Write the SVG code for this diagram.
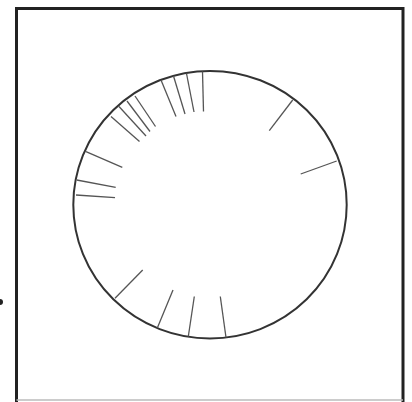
<svg xmlns="http://www.w3.org/2000/svg" width="412" height="402" viewBox="0 0 412 402">
<style>
.frame{fill:none;stroke:#222;stroke-width:3}
.ring{fill:none;stroke:#333;stroke-width:2}
.tick{stroke:#555;stroke-width:1.3;stroke-linecap:butt}
</style>
<rect x="0" y="0" width="412" height="402" fill="#fff"/>
<g id="frame">
<path class="frame" d="M16.5,402 V8.5 H403 V402"/>
<line x1="16.5" y1="400" x2="403" y2="400" stroke="#bbb" stroke-width="1.5"/>
</g>
<circle id="dot" cx="0" cy="302" r="3" fill="#222"/>
<g id="dial">
<ellipse class="ring" cx="210" cy="204.7" rx="136.7" ry="133.8"/>
</g>
<g id="ticks">
<line class="tick" x1="202.5" y1="71.5" x2="203.5" y2="111.5"/>
<line class="tick" x1="186.5" y1="73.5" x2="194" y2="112"/>
<line class="tick" x1="173.5" y1="76" x2="185" y2="114"/>
<line class="tick" x1="161" y1="80" x2="176" y2="116.5"/>
<line class="tick" x1="135" y1="96" x2="155.5" y2="126.5"/>
<line class="tick" x1="127" y1="101" x2="150" y2="131.5"/>
<line class="tick" x1="119" y1="106.5" x2="146" y2="136"/>
<line class="tick" x1="111" y1="116.5" x2="139.5" y2="141.5"/>
<line class="tick" x1="86" y1="151.7" x2="122.3" y2="167.3"/>
<line class="tick" x1="76.7" y1="180" x2="115.7" y2="187.3"/>
<line class="tick" x1="76" y1="195" x2="115" y2="197.7"/>
<line class="tick" x1="292.7" y1="100" x2="269.3" y2="130.7"/>
<line class="tick" x1="336.7" y1="161" x2="300.7" y2="174"/>
<line class="tick" x1="115" y1="298.3" x2="142.7" y2="270"/>
<line class="tick" x1="157.3" y1="328" x2="173" y2="290"/>
<line class="tick" x1="188.3" y1="336.5" x2="194.3" y2="296.5"/>
<line class="tick" x1="226" y1="337.5" x2="220.3" y2="296.5"/>
</g>
</svg>
